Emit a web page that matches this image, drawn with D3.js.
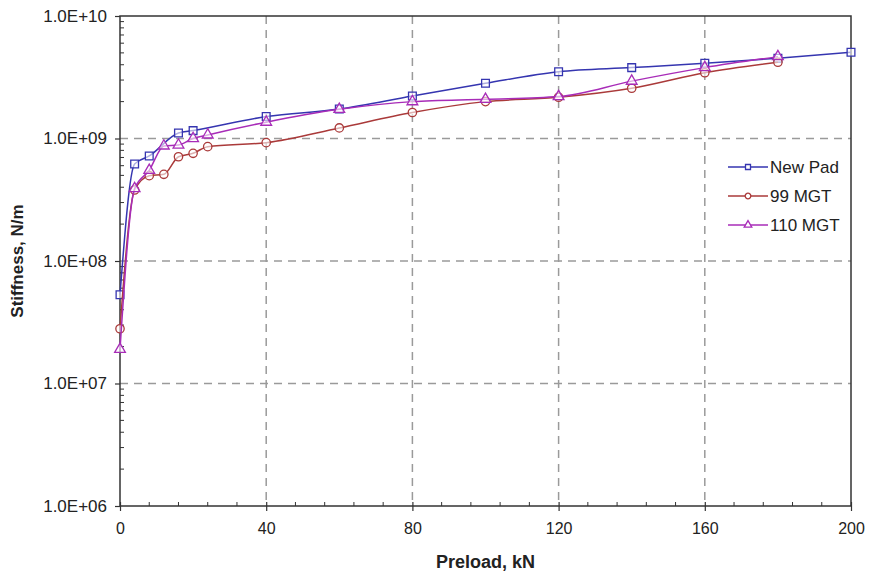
<!DOCTYPE html>
<html>
<head>
<meta charset="utf-8">
<script src="https://cdn.jsdelivr.net/npm/d3@7"></script>
<style>
  body { margin: 0; background: #fff; }
  text { font-family: "Liberation Sans", Arial, sans-serif; fill: #222; }
</style>
</head>
<body>
<div id="chart"></div>
<script>
// global const
const width = 869, height = 577;
const margin = { left: 120, right: 18, top: 16, bottom: 71 };
const colors = { newPad: "#3535b0", mgt99: "#aa3a3a", mgt110: "#a82cb8", grid: "#9a9a9a", axis: "#333" };

// data (preload kN, stiffness N/m)
const newPadLoad = [0, 4, 8, 16, 20, 40, 60, 80, 100, 120, 140, 160, 180, 200];
const newPadStiff = [5.3e7, 6.2e8, 7.2e8, 1.11e9, 1.16e9, 1.51e9, 1.74e9, 2.22e9, 2.82e9, 3.51e9, 3.79e9, 4.11e9, 4.52e9, 5.06e9];

const mgt99Load = [0, 4, 8, 12, 16, 20, 24, 40, 60, 80, 100, 120, 140, 160, 180];
const mgt99Stiff = [2.8e7, 3.8e8, 4.97e8, 5.1e8, 7.1e8, 7.57e8, 8.58e8, 9.25e8, 1.22e9, 1.63e9, 2.0e9, 2.17e9, 2.57e9, 3.44e9, 4.19e9];

const mgt110Load = [0, 4, 8, 12, 16, 20, 24, 40, 60, 80, 100, 120, 140, 160, 180];
const mgt110Stiff = [1.9e7, 3.9e8, 5.5e8, 8.7e8, 8.85e8, 1.0e9, 1.07e9, 1.36e9, 1.73e9, 2.0e9, 2.09e9, 2.2e9, 2.94e9, 3.79e9, 4.66e9];

const xTicks = [0, 40, 80, 120, 160, 200];
const yTicks = [1e6, 1e7, 1e8, 1e9, 1e10];
const yTickLabels = ["1.0E+06", "1.0E+07", "1.0E+08", "1.0E+09", "1.0E+10"];

const series = [
    { name: "New Pad", load: newPadLoad, stiff: newPadStiff, color: colors.newPad, symbol: d3.symbolSquare, size: 60 },
    { name: "99 MGT", load: mgt99Load, stiff: mgt99Stiff, color: colors.mgt99, symbol: d3.symbolCircle, size: 55 },
    { name: "110 MGT", load: mgt110Load, stiff: mgt110Stiff, color: colors.mgt110, symbol: d3.symbolTriangle, size: 50 }
];

var svg = d3.select("#chart")
    .append("svg")
    .attr("width", width)
    .attr("height", height);

var xScale = d3.scaleLinear()
    .domain([0, 200])
    .range([margin.left, width - margin.right]);

var yScale = d3.scaleLog()
    .domain([1e6, 1e10])
    .range([height - margin.bottom, margin.top]);

// grid
svg.append("g")
    .selectAll("line")
    .data(xTicks.slice(1, -1))
    .join("line")
    .attr("x1", d => xScale(d)).attr("x2", d => xScale(d))
    .attr("y1", margin.top).attr("y2", height - margin.bottom)
    .attr("stroke", colors.grid)
    .attr("stroke-width", 1.5)
    .attr("stroke-dasharray", "8,6");

svg.append("g")
    .selectAll("line")
    .data(yTicks.slice(1, -1))
    .join("line")
    .attr("x1", margin.left).attr("x2", width - margin.right)
    .attr("y1", d => yScale(d)).attr("y2", d => yScale(d))
    .attr("stroke", colors.grid)
    .attr("stroke-width", 1.5)
    .attr("stroke-dasharray", "8,6");

// frame
svg.append("rect")
    .attr("x", margin.left)
    .attr("y", margin.top)
    .attr("width", width - margin.left - margin.right)
    .attr("height", height - margin.top - margin.bottom)
    .attr("fill", "none")
    .attr("stroke", colors.axis)
    .attr("stroke-width", 1.5);

// x axis
var xAxis = svg.append("g")
    .attr("transform", `translate(0, ${height - margin.bottom})`)
    .call(d3.axisBottom(xScale).tickValues(xTicks).tickSize(5).tickPadding(12).tickFormat(d3.format("d")));
xAxis.select(".domain").remove();
xAxis.selectAll(".tick line").attr("y1", -4).attr("stroke", colors.axis).attr("stroke-width", 1.2);
xAxis.selectAll("text").attr("font-size", 16).attr("font-family", "Liberation Sans, Arial, sans-serif").attr("fill", "#222");

// x minor ticks
svg.append("g")
    .selectAll("line")
    .data(d3.range(8, 200, 8).filter(d => d % 40 !== 0))
    .join("line")
    .attr("x1", d => xScale(d)).attr("x2", d => xScale(d))
    .attr("y1", height - margin.bottom - 4).attr("y2", height - margin.bottom)
    .attr("stroke", colors.axis)
    .attr("stroke-width", 1);

// y axis
var yAxis = svg.append("g")
    .attr("transform", `translate(${margin.left}, 0)`)
    .call(d3.axisLeft(yScale).tickValues(yTicks).tickSize(5).tickPadding(8).tickFormat((d, i) => yTickLabels[i]));
yAxis.select(".domain").remove();
yAxis.selectAll(".tick line").attr("stroke", colors.axis).attr("stroke-width", 1.2);
yAxis.selectAll("text").attr("font-size", 17).attr("font-family", "Liberation Sans, Arial, sans-serif").attr("fill", "#222");

// y minor ticks
var minor = [];
[1e6, 1e7, 1e8, 1e9].forEach(dec => {
    for (let k = 2; k <= 9; k++) minor.push(dec * k);
});
svg.append("g")
    .selectAll("line")
    .data(minor)
    .join("line")
    .attr("x1", margin.left).attr("x2", margin.left + 4)
    .attr("y1", d => yScale(d)).attr("y2", d => yScale(d))
    .attr("stroke", colors.axis)
    .attr("stroke-width", 1);

// axis titles
svg.append("text")
    .attr("x", (margin.left + width - margin.right) / 2)
    .attr("y", height - 9)
    .attr("text-anchor", "middle")
    .attr("font-size", 18)
    .attr("font-weight", "bold")
    .text("Preload, kN");

svg.append("text")
    .attr("transform", `translate(23, ${(margin.top + height - margin.bottom) / 2}) rotate(-90)`)
    .attr("text-anchor", "middle")
    .attr("font-size", 17)
    .attr("font-weight", "bold")
    .text("Stiffness, N/m");

// series
var line = d3.line()
    .x(d => xScale(d[0]))
    .y(d => yScale(d[1]))
    .curve(d3.curveMonotoneX);

series.forEach(s => {
    var pts = s.load.map((l, i) => [l, s.stiff[i]]);
    svg.append("path")
        .datum(pts)
        .attr("d", line)
        .attr("fill", "none")
        .attr("stroke", s.color)
        .attr("stroke-width", 1.5);

    svg.append("g")
        .selectAll("path")
        .data(pts)
        .join("path")
        .attr("d", d3.symbol().type(s.symbol).size(s.size))
        .attr("transform", d => `translate(${xScale(d[0])}, ${yScale(d[1])})`)
        .attr("fill", "white")
        .attr("fill-opacity", 0.6)
        .attr("stroke", s.color)
        .attr("stroke-width", 1.3);
});

// legend
var legend = svg.append("g");
series.forEach((s, i) => {
    var y = 167 + i * 29;
    legend.append("line")
        .attr("x1", 728).attr("x2", 768)
        .attr("y1", y).attr("y2", y)
        .attr("stroke", s.color)
        .attr("stroke-width", 1.5);
    legend.append("path")
        .attr("d", d3.symbol().type(s.symbol).size(25))
        .attr("transform", `translate(748, ${y})`)
        .attr("fill", "white")
        .attr("stroke", s.color)
        .attr("stroke-width", 1.3);
    legend.append("text")
        .attr("x", 770)
        .attr("y", y + 6)
        .attr("font-size", 17)
        .text(s.name);
});
</script>
</body>
</html>
